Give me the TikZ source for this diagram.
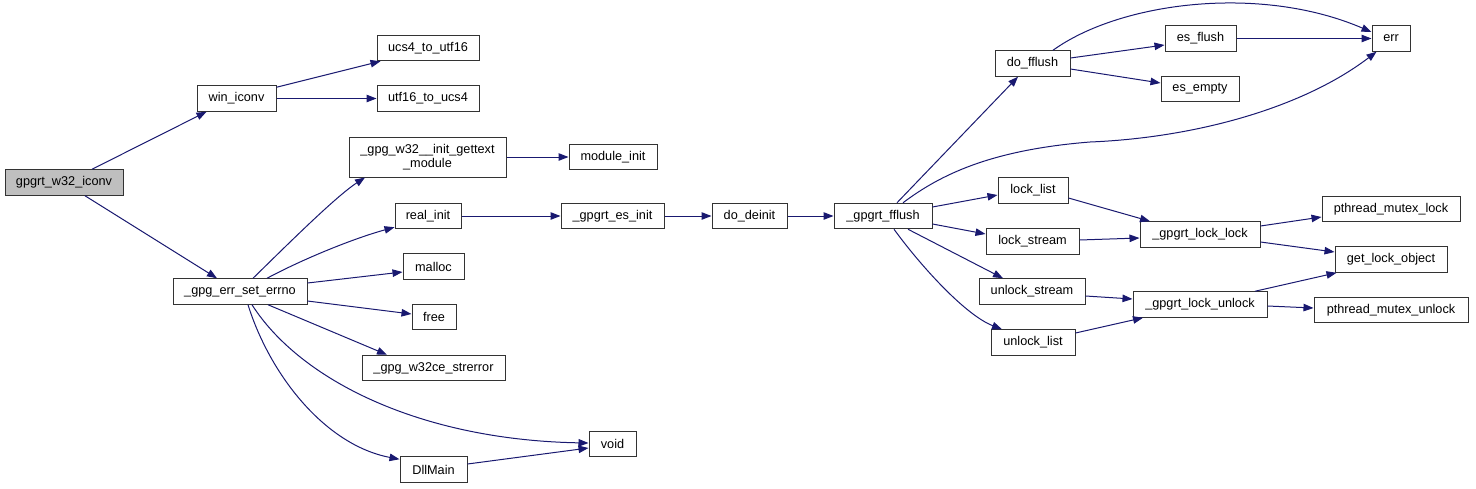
\documentclass[tikz,border=0pt]{standalone}
\usepackage{fontspec}
\setmainfont{Liberation Sans}
\usetikzlibrary{arrows.meta}
\definecolor{edgeblue}{RGB}{25,25,112}
\definecolor{rootgray}{RGB}{191,191,191}
\tikzset{
  fnbox/.style={draw=black!80, line width=1pt, fill=white, inner sep=0pt, minimum height=25.5pt,
    font=\fontsize{12.7}{14.5}\selectfont, align=center},
  rootbox/.style={fnbox, fill=rootgray},
  edge/.style={draw=edgeblue, line width=1pt, -{Triangle[length=10pt,width=7.5pt]}, fill=none}
}
\begin{document}
\begin{tikzpicture}[x=1pt,y=-1pt]
\useasboundingbox (0,0) rectangle (1476,488);
% nodes
\node[rootbox, minimum width=118pt] (root) at (64,182.5) {gpgrt\_w32\_iconv};
\node[fnbox, minimum width=79pt] (win) at (236.5,98.5) {win\_iconv};
\node[fnbox, minimum width=102pt] (ucs4) at (428,48) {ucs4\_to\_utf16};
\node[fnbox, minimum width=102pt] (utf16) at (428,98.5) {utf16\_to\_ucs4};
\node[fnbox, minimum width=157pt, minimum height=40pt] (gettext) at (427.5,157) {\_gpg\_w32\_\_init\_gettext\\\_module};
\node[fnbox, minimum width=66pt] (real) at (428,216) {real\_init};
\node[fnbox, minimum width=134pt] (errno) at (240,291.5) {\_gpg\_err\_set\_errno};
\node[fnbox, minimum width=61pt] (malloc) at (433.5,266.5) {malloc};
\node[fnbox, minimum width=44pt] (free) at (434,317) {free};
\node[fnbox, minimum width=143pt] (strerror) at (433.5,368) {\_gpg\_w32ce\_strerror};
\node[fnbox, minimum width=67pt] (dllmain) at (433.5,469.5) {DllMain};
\node[fnbox, minimum width=47pt] (void) at (612.5,444) {void};
\node[fnbox, minimum width=88pt] (module) at (613,157) {module\_init};
\node[fnbox, minimum width=103pt] (esinit) at (612.5,216) {\_gpgrt\_es\_init};
\node[fnbox, minimum width=75pt] (deinit) at (749.5,216) {do\_deinit};
\node[fnbox, minimum width=98pt] (fflush) at (883,216) {\_gpgrt\_fflush};
\node[fnbox, minimum width=75pt] (dofflush) at (1032.5,63.5) {do\_fflush};
\node[fnbox, minimum width=71pt] (esflush) at (1200.5,38.5) {es\_flush};
\node[fnbox, minimum width=78pt] (esempty) at (1200,89) {es\_empty};
\node[fnbox, minimum width=38pt] (err) at (1391,38.5) {err};
\node[fnbox, minimum width=70pt] (locklist) at (1033,190.5) {lock\_list};
\node[fnbox, minimum width=93pt] (lockstream) at (1032.5,241.5) {lock\_stream};
\node[fnbox, minimum width=106pt] (unlockstream) at (1032,291.5) {unlock\_stream};
\node[fnbox, minimum width=84pt] (unlocklist) at (1033,342.5) {unlock\_list};
\node[fnbox, minimum width=120pt] (locklock) at (1200,234.5) {\_gpgrt\_lock\_lock};
\node[fnbox, minimum width=134pt] (lockunlock) at (1200,304.5) {\_gpgrt\_lock\_unlock};
\node[fnbox, minimum width=138pt] (pthlock) at (1391,209) {pthread\_mutex\_lock};
\node[fnbox, minimum width=112pt] (getlock) at (1391,259.5) {get\_lock\_object};
\node[fnbox, minimum width=154pt] (pthunlock) at (1391,310) {pthread\_mutex\_unlock};
% edges
\draw[edge] ([xshift=28]root.north) -- ([xshift=-30]win.south);
\draw[edge] ([xshift=21]root.south) -- ([xshift=-23]errno.north);
\draw[edge] ([yshift=-2]win.north east) -- ([xshift=4]ucs4.south west);
\draw[edge] (win.east) -- (utf16.west);
\draw[edge] ([xshift=13]errno.north) .. controls (283,249) and (335,197) .. ([xshift=-62.5]gettext.south);
\draw[edge] ([xshift=27]errno.north) .. controls (305,258) and (355,238) .. ([yshift=2]real.south west);
\draw[edge] ([yshift=8.5]errno.east) -- ([yshift=-5.5]malloc.west);
\draw[edge] ([yshift=-9.5]errno.east) -- ([yshift=3]free.west);
\draw[edge] ([xshift=28]errno.south) -- ([xshift=-46.5]strerror.north);
\draw[edge] ([xshift=12]errno.south) .. controls (300,380) and (420,440) .. ([yshift=1]void.west);
\draw[edge] ([xshift=8]errno.south) .. controls (270,375) and (325,445) .. ([yshift=-3]dllmain.north west);
\draw[edge] ([yshift=5.5]dllmain.east) -- ([yshift=-4]void.west);
\draw[edge] (gettext.east) -- (module.west);
\draw[edge] (real.east) -- (esinit.west);
\draw[edge] (esinit.east) -- (deinit.west);
\draw[edge] (deinit.east) -- (fflush.west);
\draw[edge] ([xshift=14]fflush.north) -- ([xshift=-14.5]dofflush.south);
\draw[edge] ([xshift=20]fflush.north) .. controls (940,175) and (990,150) .. (1090,142)
  .. controls (1190,138) and (1300,110) .. ([xshift=5]err.south west);
\draw[edge] ([yshift=9]fflush.east) -- ([yshift=-4.5]locklist.west);
\draw[edge] ([yshift=-8]fflush.east) -- ([yshift=7.5]lockstream.west);
\draw[edge] ([xshift=25]fflush.south) -- ([xshift=-29]unlockstream.north);
\draw[edge] ([xshift=11]fflush.south) .. controls (920,265) and (965,315) .. ([xshift=-31]unlocklist.north);
\draw[edge] ([xshift=20.5]dofflush.north) .. controls (1120,2) and (1260,-16) .. ([yshift=6.5]err.west);
\draw[edge] ([yshift=5.5]dofflush.east) -- ([yshift=-6.5]esflush.west);
\draw[edge] ([yshift=-5.5]dofflush.east) -- ([yshift=6]esempty.west);
\draw[edge] (esflush.east) -- (err.west);
\draw[edge] ([yshift=-7.5]locklist.east) -- ([xshift=-50]locklock.north);
\draw[edge] ([yshift=1.5]lockstream.east) -- ([yshift=-3.5]locklock.west);
\draw[edge] ([yshift=-4.5]unlockstream.east) -- ([yshift=5.5]lockunlock.west);
\draw[edge] ([yshift=9.5]unlocklist.east) -- ([xshift=-57]lockunlock.south);
\draw[edge] ([yshift=8.5]locklock.east) -- ([yshift=-8]pthlock.west);
\draw[edge] ([yshift=-7.5]locklock.east) -- ([yshift=7.5]getlock.west);
\draw[edge] ([xshift=55]lockunlock.north) -- ([xshift=2]getlock.south west);
\draw[edge] ([yshift=-1.5]lockunlock.east) -- ([yshift=2]pthunlock.west);
\end{tikzpicture}
\end{document}
